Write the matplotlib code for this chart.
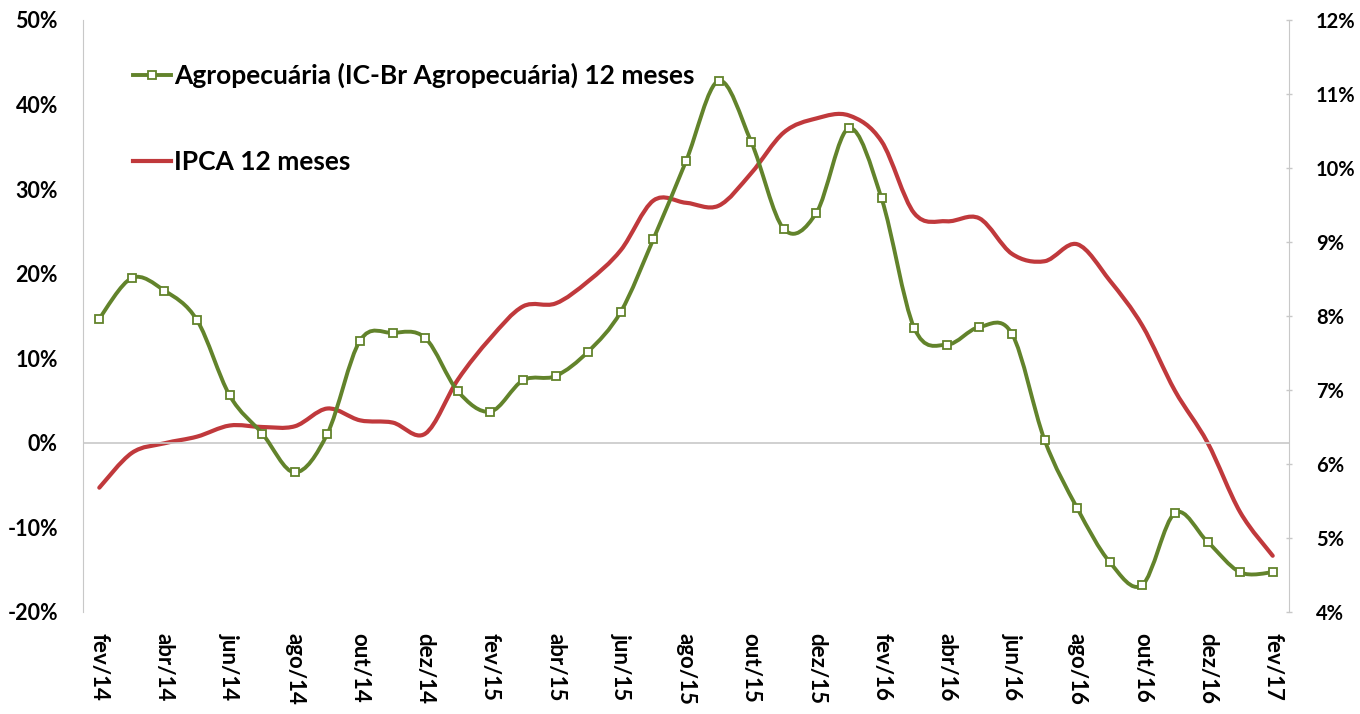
import matplotlib
matplotlib.use('Agg')
import matplotlib.pyplot as plt
from matplotlib.path import Path
from matplotlib.patches import PathPatch
from matplotlib.lines import Line2D
from matplotlib.ticker import FuncFormatter
import numpy as np

plt.rcParams['font.family'] = ['Lato', 'DejaVu Sans']

# Meses (fev/14 ... fev/17)
meses = ['fev/14', 'mar/14', 'abr/14', 'mai/14', 'jun/14', 'jul/14', 'ago/14',
         'set/14', 'out/14', 'nov/14', 'dez/14', 'jan/15', 'fev/15', 'mar/15',
         'abr/15', 'mai/15', 'jun/15', 'jul/15', 'ago/15', 'set/15', 'out/15',
         'nov/15', 'dez/15', 'jan/16', 'fev/16', 'mar/16', 'abr/16', 'mai/16',
         'jun/16', 'jul/16', 'ago/16', 'set/16', 'out/16', 'nov/16', 'dez/16',
         'jan/17', 'fev/17']

# IC-Br Agropecuária, variação em 12 meses (%) - eixo esquerdo
agro = [14.7, 19.5, 18.0, 14.5, 5.6, 1.1, -3.5, 1.1, 12.1, 13.0, 12.4, 6.1,
        3.7, 7.4, 7.9, 10.8, 15.5, 24.1, 33.3, 42.8, 35.6, 25.3, 27.2, 37.2,
        28.9, 13.6, 11.6, 13.7, 12.9, 0.35, -7.7, -14.1, -16.8, -8.3, -11.7,
        -15.3, -15.3]

# IPCA 12 meses (%) - eixo direito
ipca = [5.68, 6.15, 6.28, 6.37, 6.52, 6.50, 6.51, 6.75, 6.59, 6.56, 6.41,
        7.14, 7.70, 8.13, 8.17, 8.47, 8.89, 9.56, 9.53, 9.49, 9.93, 10.48,
        10.67, 10.71, 10.36, 9.39, 9.28, 9.32, 8.84, 8.74, 8.97, 8.48, 7.87,
        6.99, 6.29, 5.35, 4.76]

verde = '#62832b'
vermelho = '#c0393c'
cinza = '#c8c8c8'


# Linha suavizada (estilo Excel) com curvas de Bezier
def linha_suave(x, y):
    n = len(x)
    verts = [(x[0], y[0])]
    codes = [Path.MOVETO]
    for i in range(n - 1):
        a = max(i - 1, 0)
        b = min(i + 2, n - 1)
        c1 = (x[i] + (x[i + 1] - x[a]) / 6, y[i] + (y[i + 1] - y[a]) / 6)
        c2 = (x[i + 1] - (x[b] - x[i]) / 6, y[i + 1] - (y[b] - y[i]) / 6)
        verts += [c1, c2, (x[i + 1], y[i + 1])]
        codes += [Path.CURVE4] * 3
    return Path(verts, codes)


x = np.arange(len(meses))

fig = plt.figure(figsize=(13.6, 7.14), dpi=100)
ax = fig.add_axes([83 / 1360, 1 - 612 / 714, (1289 - 83) / 1360, 592 / 714])
ax2 = ax.twinx()
ax.set_zorder(ax2.get_zorder() + 1)
ax.patch.set_visible(False)

# IPCA
ax2.add_patch(PathPatch(linha_suave(x, ipca), fill=False, edgecolor=vermelho,
                        lw=3.0, capstyle='round', joinstyle='round'))

# Agropecuária
ax.axhline(0, color=cinza, lw=1.2, zorder=1)
ax.add_patch(PathPatch(linha_suave(x, agro), fill=False, edgecolor=verde,
                       lw=2.8, capstyle='round', joinstyle='round', zorder=2))
ax.plot(x, agro, ls='none', marker='s', ms=5.5, mfc='white', mec=verde,
        mew=1.3, zorder=3)

ax.set_xlim(-0.5, len(meses) - 0.5)
ax.set_ylim(-20, 50)
ax2.set_ylim(4, 12)

ax.set_yticks(np.arange(-20, 51, 10))
ax2.set_yticks(np.arange(4, 13, 1))
ax.yaxis.set_major_formatter(FuncFormatter(lambda v, p: f'{v:.0f}%'))
ax2.yaxis.set_major_formatter(FuncFormatter(lambda v, p: f'{v:.0f}%'))

ax.set_xticks(x[::2])
ax.set_xticklabels(meses[::2], rotation=-90, fontweight='bold', fontsize=16)
ax.tick_params(axis='x', length=0, pad=15)
ax.tick_params(axis='y', length=0, pad=18, labelsize=15.5)
ax2.tick_params(axis='y', length=5, width=1, color=cinza, direction='inout',
                pad=17, labelsize=14.5)
for lab in ax.get_yticklabels() + ax2.get_yticklabels():
    lab.set_fontweight('bold')

for a in (ax, ax2):
    for s in ('top', 'bottom'):
        a.spines[s].set_visible(False)
ax.spines['right'].set_visible(False)
ax2.spines['left'].set_visible(False)
ax.spines['left'].set_color(cinza)
ax2.spines['right'].set_color(cinza)

# Legenda
handles = [Line2D([], [], color=verde, lw=2.8, marker='s', ms=5.5,
                  mfc='white', mec=verde, mew=1.3),
           Line2D([], [], color=vermelho, lw=3.0)]
rotulos = ['Agropecuária (IC-Br Agropecuária) 12 meses', 'IPCA 12 meses']
fig.legend(handles, rotulos, loc='upper left',
           bbox_to_anchor=(133 / 1360, 1 - 63 / 714), frameon=False,
           borderpad=0, borderaxespad=0, handlelength=1.45,
           handletextpad=0.1, labelspacing=2.35,
           prop={'size': 19, 'weight': 'bold'})

fig.savefig('out.png', dpi=100)
